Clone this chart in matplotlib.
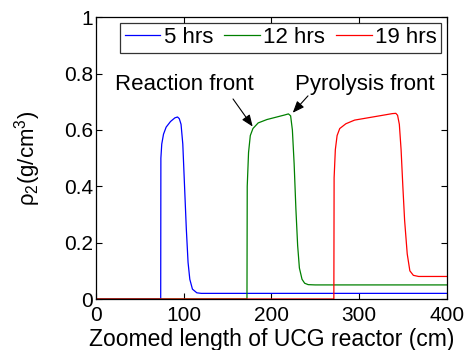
import matplotlib
matplotlib.use('Agg')
import matplotlib.pyplot as plt

plt.rcParams['font.family'] = ['Liberation Sans', 'DejaVu Sans']
plt.rcParams['mathtext.fontset'] = 'custom'
plt.rcParams['mathtext.rm'] = 'Liberation Sans'
plt.rcParams['mathtext.it'] = 'Liberation Sans'
plt.rcParams['mathtext.default'] = 'regular'

# curvas (x en cm, densidad en g/cm3)
x_5h = [0, 73.8, 74.0, 75, 77, 80, 85, 90, 93, 95, 97, 99, 101, 103, 105, 107, 110, 115, 120, 400]
y_5h = [0, 0, 0.50, 0.55, 0.585, 0.61, 0.63, 0.643, 0.646, 0.64, 0.62, 0.55, 0.40, 0.25, 0.13, 0.07, 0.035, 0.022, 0.02, 0.02]

x_12h = [0, 172.2, 172.5, 174, 176, 179, 185, 195, 205, 215, 219.5, 222, 224, 226, 228, 230, 232, 235, 238, 242, 250, 400]
y_12h = [0, 0, 0.40, 0.52, 0.58, 0.605, 0.625, 0.637, 0.645, 0.653, 0.657, 0.65, 0.60, 0.48, 0.32, 0.19, 0.11, 0.07, 0.056, 0.051, 0.05, 0.05]

x_19h = [0, 271.3, 271.6, 273, 275, 278, 285, 295, 310, 325, 338, 342, 344, 346, 348, 350, 352, 355, 358, 362, 368, 400]
y_19h = [0, 0, 0.43, 0.53, 0.58, 0.605, 0.622, 0.635, 0.643, 0.651, 0.658, 0.659, 0.652, 0.62, 0.53, 0.40, 0.28, 0.16, 0.10, 0.084, 0.08, 0.08]

etiquetas = ['5 hrs', '12 hrs', '19 hrs']
colores = ['#0000ff', '#008000', '#ff0000']

fig = plt.figure(figsize=(4.69, 3.5), dpi=100)
ax = fig.add_axes([0.2047, 0.1457, 0.7477, 0.805])

for xs, ys, lab, c in zip([x_5h, x_12h, x_19h], [y_5h, y_12h, y_19h], etiquetas, colores):
    ax.plot(xs, ys, color=c, linewidth=0.9, label=lab)

ax.set_xlim(0, 400)
ax.set_ylim(0, 1)
ax.set_xticks([0, 100, 200, 300, 400])
ax.set_yticks([0, 0.2, 0.4, 0.6, 0.8, 1])
ax.set_yticklabels(['0', '0.2', '0.4', '0.6', '0.8', '1'])
ax.tick_params(direction='in', top=True, right=True, labelsize=15, length=4, width=0.8)
ax.tick_params(axis='x', pad=5)
ax.tick_params(axis='y', pad=2)
for s in ax.spines.values():
    s.set_linewidth(0.9)

ax.set_xlabel('Zoomed length of UCG reactor (cm)', fontsize=16.5, labelpad=2)
ax.set_ylabel(r'$\rho_2$(g/cm$^3$)', fontsize=16)
ax.yaxis.set_label_coords(-0.15, 0.5)

leg = ax.legend(loc='upper right', ncol=3, fontsize=16, frameon=True, fancybox=False,
                handlelength=1.6, handletextpad=0.15, columnspacing=0.5,
                borderpad=0.2, borderaxespad=0.25)
leg.get_frame().set_edgecolor('black')
leg.get_frame().set_linewidth(0.9)

# textos y flechas
ax.text(100.4, 0.76, 'Reaction front', fontsize=16, ha='center', va='center')
ax.text(306.8, 0.76, 'Pyrolysis front', fontsize=16, ha='center', va='center')
flecha = dict(arrowstyle='-|>,head_length=0.7,head_width=0.28', color='black', lw=0.8,
              shrinkA=0, shrinkB=0)
ax.annotate('', xy=(178.7, 0.612), xytext=(156.3, 0.71), arrowprops=flecha)
ax.annotate('', xy=(224.4, 0.661), xytext=(241.8, 0.721), arrowprops=flecha)

fig.savefig('out.png', dpi=100)
